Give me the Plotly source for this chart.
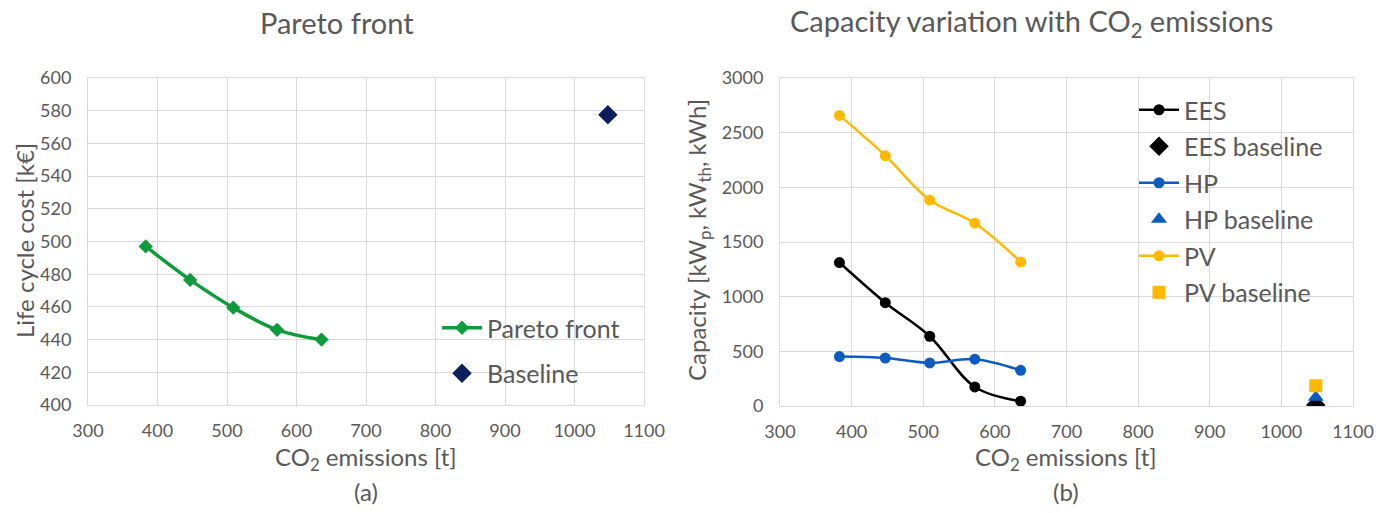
import plotly.graph_objects as go

# ---- data ----
co2 = [383, 447, 509, 572, 636]
lcc = [497, 476.5, 459.5, 446, 440]
base_co2 = [1048]
base_lcc = [577.5]

ees = [1312, 945, 638, 174, 44]
hp = [452, 439, 394, 428, 326]
pv = [2658, 2290, 1884, 1672, 1318]
ees_base = [10]
hp_base = [80]
pv_base = [185]

x_ticks = [300, 400, 500, 600, 700, 800, 900, 1000, 1100]

FONT = "Lato, Open Sans, sans-serif"
GRAY = "#595959"
GRID = "#d9d9d9"

GREEN = "#0f9a3c"
NAVY = "#0c1f5c"
BLUE = "#0b5cbe"
GOLD = "#ffb900"

W, H = 1391, 513
def px_x(p):
    return p / W
def px_y(p):
    return 1 - p / H

fig = go.Figure()

# left chart
fig.add_trace(go.Scatter(x=co2, y=lcc, mode="lines+markers", name="Pareto front",
                         line=dict(color=GREEN, width=3.5, shape="spline"),
                         marker=dict(symbol="diamond", size=11, color=GREEN),
                         xaxis="x", yaxis="y", legend="legend", legendgroup="a1"))
fig.add_trace(go.Scatter(x=base_co2, y=base_lcc, mode="markers", name="Baseline",
                         marker=dict(symbol="diamond", size=15, color=NAVY),
                         xaxis="x", yaxis="y", legend="legend", legendgroup="a2"))

# right chart
fig.add_trace(go.Scatter(x=co2, y=ees, mode="lines+markers", name="EES",
                         line=dict(color="black", width=2.5, shape="spline"),
                         marker=dict(symbol="circle", size=11, color="black"),
                         xaxis="x2", yaxis="y2", legend="legend2", legendgroup="b1"))
fig.add_trace(go.Scatter(x=base_co2, y=ees_base, mode="markers", name="EES baseline",
                         marker=dict(symbol="diamond", size=15, color="black"),
                         xaxis="x2", yaxis="y2", legend="legend2", legendgroup="b2"))
fig.add_trace(go.Scatter(x=co2, y=hp, mode="lines+markers", name="HP",
                         line=dict(color=BLUE, width=2.5, shape="spline"),
                         marker=dict(symbol="circle", size=11, color=BLUE),
                         xaxis="x2", yaxis="y2", legend="legend2", legendgroup="b3"))
fig.add_trace(go.Scatter(x=base_co2, y=hp_base, mode="markers", name="HP baseline",
                         marker=dict(symbol="triangle-up", size=14, color=BLUE),
                         xaxis="x2", yaxis="y2", legend="legend2", legendgroup="b4"))
fig.add_trace(go.Scatter(x=co2, y=pv, mode="lines+markers", name="PV",
                         line=dict(color=GOLD, width=2.5, shape="spline"),
                         marker=dict(symbol="circle", size=11, color=GOLD),
                         xaxis="x2", yaxis="y2", legend="legend2", legendgroup="b5"))
fig.add_trace(go.Scatter(x=base_co2, y=pv_base, mode="markers", name="PV baseline",
                         marker=dict(symbol="square", size=13, color=GOLD),
                         xaxis="x2", yaxis="y2", legend="legend2", legendgroup="b6"))

axis_common = dict(showgrid=True, gridcolor=GRID, gridwidth=1, zeroline=False,
                   showline=True, linecolor=GRID, linewidth=1, mirror=True,
                   automargin=False, ticks="",
                   tickfont=dict(family=FONT, size=18, color=GRAY))
xcommon = dict(ticklabelstandoff=9)
ycommon = dict(ticklabelstandoff=12)

def ann(text, x, y, size, angle=0):
    return dict(text=text, x=px_x(x), y=px_y(y), xref="paper", yref="paper",
                xanchor="center", yanchor="middle", textangle=angle,
                showarrow=False, font=dict(family=FONT, size=size, color=GRAY))

fig.update_layout(
    width=W, height=H,
    margin=dict(l=0, r=0, t=0, b=0, autoexpand=False),
    paper_bgcolor="white", plot_bgcolor="white",
    font=dict(family=FONT, color=GRAY),
    xaxis=dict(domain=[px_x(88), px_x(644)], range=[300, 1100], tickvals=x_ticks,
               anchor="y", **axis_common, **xcommon),
    yaxis=dict(domain=[px_y(405), px_y(78)], range=[400, 600], dtick=20, anchor="x",
               **axis_common, **ycommon),
    xaxis2=dict(domain=[px_x(780), px_x(1353)], range=[300, 1100], tickvals=x_ticks,
                anchor="y2", **axis_common, **xcommon),
    yaxis2=dict(domain=[px_y(406), px_y(78)], range=[0, 3000], dtick=500, anchor="x2",
                **axis_common, **ycommon),
    legend=dict(x=px_x(437), y=px_y(305), xanchor="left", yanchor="top",
                bgcolor="rgba(0,0,0,0)", font=dict(family=FONT, size=25, color=GRAY),
                traceorder="grouped", tracegroupgap=10, itemwidth=40),
    legend2=dict(x=px_x(1134), y=px_y(87), xanchor="left", yanchor="top",
                 bgcolor="rgba(0,0,0,0)", font=dict(family=FONT, size=25, color=GRAY),
                 traceorder="grouped", tracegroupgap=1, itemwidth=40),
    annotations=[
        ann("Pareto front", 337, 23, 29),
        ann("Capacity variation with CO<sub>2</sub> emissions", 1031, 23, 29),
        ann("CO<sub>2</sub> emissions [t]", 366, 458, 24),
        ann("(a)", 366, 491, 24),
        ann("CO<sub>2</sub> emissions [t]", 1066, 458, 24),
        ann("(b)", 1066, 491, 24),
        ann("Life cycle cost [k€]", 24, 241, 24, -90),
        ann("Capacity [kW<sub>p</sub>, kW<sub>th</sub>, kWh]", 698, 240, 24, -90),
    ],
)

fig.write_html("out.html", config={"displayModeBar": False},
               post_script="document.body.style.margin='0';document.body.style.overflow='hidden';")
